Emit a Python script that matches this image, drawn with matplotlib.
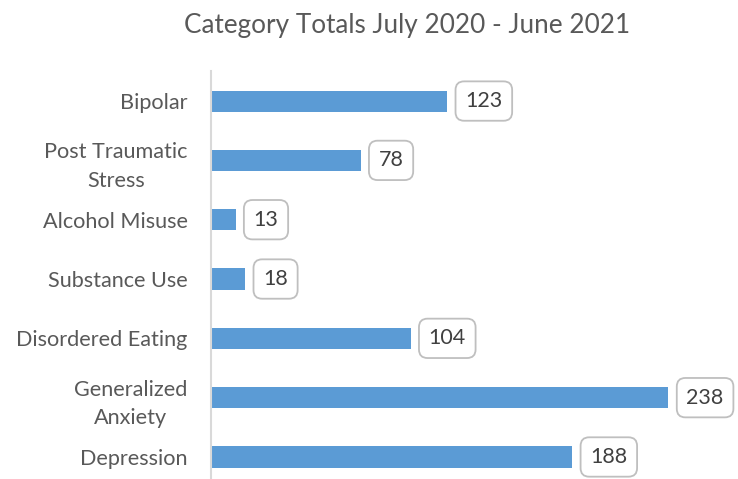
import matplotlib
matplotlib.use("Agg")
import matplotlib.pyplot as plt

categories = ["Bipolar", "Post Traumatic\nStress", "Alcohol Misuse", "Substance Use",
              "Disordered Eating", "Generalized\nAnxiety", "Depression"]
values = [123, 78, 13, 18, 104, 238, 188]
title = "Category Totals July 2020 - June 2021"

W, H = 738, 479
fig = plt.figure(figsize=(W / 100, H / 100), dpi=100)
plt.rcParams['font.family'] = ['Lato', 'DejaVu Sans']

top_px = 71.4
left_px = 210.5
ax = fig.add_axes([left_px / W, 0, 481 / W, (H - top_px) / H])
pos = list(range(len(categories)))
ax.barh(pos, values, height=0.355, color="#5b9bd5")
ax.set_xlim(0, 250)
ax.set_ylim((H - 101) / 59.33, -0.5)
ax.set_yticks(pos)
ax.set_yticklabels(categories, fontsize=15.6, color="#595959", linespacing=1.55)
for t in ax.get_yticklabels():
    t.set_multialignment("center")
ax.tick_params(axis="y", length=0, pad=16.5)
ax.tick_params(axis="x", bottom=False, labelbottom=False)
for s in ["top", "right", "bottom"]:
    ax.spines[s].set_visible(False)
ax.spines["left"].set_color("#d9d9d9")
ax.spines["left"].set_linewidth(1.5)

for y, v in zip(pos, values):
    ax.annotate(str(v), xy=(v, y), xytext=(13, 0), textcoords="offset points",
                ha="left", va="center", fontsize=15.5, color="#404040",
                bbox=dict(boxstyle="round,pad=0.45,rounding_size=0.4", fc="white",
                          ec="#bfbfbf", lw=1.3))

fig.text(407.5 / W, 1 - 33 / H, title, ha="center", va="baseline", fontsize=18.8, color="#595959")

fig.savefig("out.png", dpi=100)
